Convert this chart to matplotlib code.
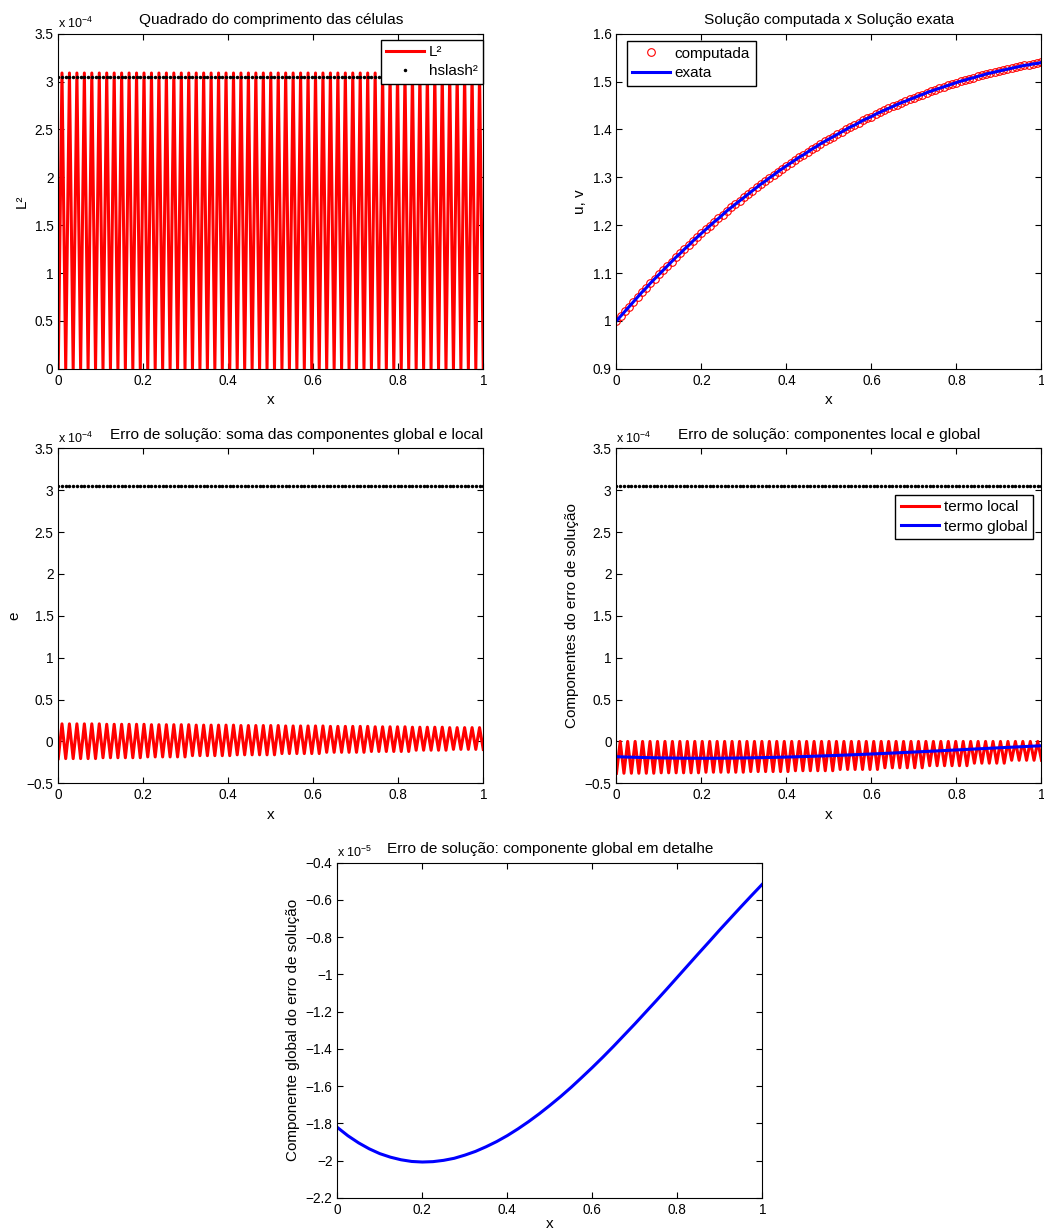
import numpy as np
import matplotlib.pyplot as plt
from matplotlib.ticker import FuncFormatter, MultipleLocator

plt.rcParams['font.family'] = ['Liberation Sans', 'DejaVu Sans']
plt.rcParams['mathtext.fontset'] = 'custom'
plt.rcParams['mathtext.rm'] = 'Liberation Sans'
plt.rcParams['axes.linewidth'] = 0.8

# malha: nós igualmente espaçados em [0, 1]
n_nos = 115
x_nos = np.linspace(0, 1, n_nos)

# quadrado do comprimento das células (x 1e-4), alterna 0 / pico
L2_nos = [0.0, 3.09] * 57 + [0.0]
hslash2 = [3.05] * n_nos

# erro de solução (x 1e-4): vales nos nós pares, picos nos ímpares
e_vales = ([-0.205] * 6 + [-0.195] * 6 + [-0.185] * 6 + [-0.17] * 6 + [-0.16] * 6
           + [-0.145] * 6 + [-0.13] * 6 + [-0.12] * 6 + [-0.105] * 5 + [-0.095] * 5)
e_picos = ([0.21] * 6 + [0.205] * 6 + [0.2] * 6 + [0.195] * 6 + [0.19] * 6
           + [0.185] * 6 + [0.18] * 6 + [0.175] * 5 + [0.17] * 5 + [0.165] * 5)

# termo local (x 1e-4)
local_vales = ([-0.38] * 6 + [-0.375] * 6 + [-0.368] * 6 + [-0.36] * 6 + [-0.35] * 6
               + [-0.335] * 6 + [-0.315] * 6 + [-0.29] * 6 + [-0.26] * 5 + [-0.225] * 5)
local_picos = [0.0] * 57

# componente global (x 1e-5)
x_global = np.linspace(0, 1, 41)
global_e5 = [-1.822, -1.867, -1.905, -1.937, -1.963, -1.982, -1.996, -2.005, -2.008,
             -2.006, -1.999, -1.988, -1.971, -1.951, -1.926, -1.898, -1.866, -1.830,
             -1.791, -1.749, -1.704, -1.657, -1.607, -1.554, -1.500, -1.444, -1.386,
             -1.326, -1.266, -1.204, -1.142, -1.079, -1.015, -0.951, -0.887, -0.824,
             -0.760, -0.698, -0.636, -0.575, -0.515]

# solução u (computada e exata)
x_u = np.linspace(0, 1, 101)
u_sol = [1.000, 1.010, 1.020, 1.030, 1.040, 1.050, 1.060, 1.069, 1.079, 1.088,
         1.097, 1.106, 1.115, 1.124, 1.133, 1.141, 1.150, 1.158, 1.167, 1.175,
         1.183, 1.191, 1.199, 1.207, 1.214, 1.222, 1.230, 1.237, 1.244, 1.251,
         1.258, 1.265, 1.272, 1.279, 1.286, 1.292, 1.299, 1.305, 1.312, 1.318,
         1.324, 1.330, 1.336, 1.342, 1.347, 1.353, 1.359, 1.364, 1.370, 1.375,
         1.380, 1.385, 1.390, 1.395, 1.400, 1.405, 1.409, 1.414, 1.419, 1.423,
         1.427, 1.432, 1.436, 1.440, 1.444, 1.448, 1.452, 1.456, 1.459, 1.463,
         1.466, 1.470, 1.473, 1.477, 1.480, 1.483, 1.486, 1.489, 1.492, 1.495,
         1.498, 1.501, 1.503, 1.506, 1.508, 1.511, 1.513, 1.516, 1.518, 1.520,
         1.522, 1.524, 1.526, 1.528, 1.530, 1.532, 1.534, 1.535, 1.537, 1.538,
         1.540]

e_nos = np.empty(n_nos)
e_nos[0::2] = e_vales
e_nos[1::2] = e_picos
local_nos = np.empty(n_nos)
local_nos[0::2] = local_vales
local_nos[1::2] = local_picos
global_e4 = [g / 10 for g in global_e5]


def fmt(v, pos):
    return ('%g' % round(v, 6)).replace('-', '\u2212')


def estilo(ax, ystep, exp=None, lpad=4):
    ax.tick_params(direction='in', top=True, right=True, length=4, labelsize=9.8)
    ax.xaxis.set_major_locator(MultipleLocator(0.2))
    ax.yaxis.set_major_locator(MultipleLocator(ystep))
    ax.xaxis.set_major_formatter(FuncFormatter(fmt))
    ax.yaxis.set_major_formatter(FuncFormatter(fmt))
    ax.set_xlabel('x', fontsize=11, labelpad=lpad)
    if exp is not None:
        ax.text(0.0, 1.008, r'x 10$^{\mathregular{%d}}$' % exp, transform=ax.transAxes,
                fontsize=9, ha='left', va='bottom')


fig = plt.figure(figsize=(10.44, 12.32), dpi=100)
wl = 0.4071
hl = 0.2719
xl, xr, xc = 0.0558, 0.5905, 0.3231
yt, ym, yb = 0.7007, 0.3642, 0.0278
leg_kw = dict(fancybox=False, edgecolor='k', framealpha=1, fontsize=11, borderaxespad=0,
              handlelength=2.5, handletextpad=0.3, borderpad=0.35, labelspacing=0.35)
tit = 11.1

# 1 - quadrado do comprimento das células
ax1 = fig.add_axes([xl, yt, wl, hl])
ax1.plot(x_nos, L2_nos, '-', color='r', lw=2.2, label='L²')
ax1.plot(x_nos, hslash2, 'k.', ms=3, label='hslash²')
ax1.set_xlim(0, 1)
ax1.set_ylim(0, 3.5)
estilo(ax1, 0.5, -4)
ax1.set_ylabel('L²', fontsize=11)
ax1.set_title('Quadrado do comprimento das células', fontsize=tit, pad=7)
ax1.legend(loc='upper right', bbox_to_anchor=(1.0, 0.982), **leg_kw)

# 2 - solução computada x exata
ax2 = fig.add_axes([xr, yt, wl, hl])
ax2.plot(x_u, u_sol, 'o', mfc='none', mec='r', ms=5.5, mew=0.8, label='computada')
ax2.plot(x_u, u_sol, '-', color='b', lw=2.2, label='exata')
ax2.set_xlim(0, 1)
ax2.set_ylim(0.9, 1.6)
estilo(ax2, 0.1)
ax2.set_ylabel('u, v', fontsize=11)
ax2.set_title('Solução computada x Solução exata', fontsize=tit, pad=7)
ax2.legend(loc='upper left', bbox_to_anchor=(0.024, 0.977), **leg_kw)

# 3 - erro de solução (soma)
ax3 = fig.add_axes([xl, ym, wl, hl])
ax3.plot(x_nos, e_nos, '-', color='r', lw=2.2)
ax3.plot(x_nos, hslash2, 'k.', ms=3)
ax3.set_xlim(0, 1)
ax3.set_ylim(-0.5, 3.5)
estilo(ax3, 0.5, -4)
ax3.set_ylabel('e', fontsize=11)
ax3.set_title('Erro de solução: soma das componentes global e local', fontsize=tit,
              pad=7, loc='right')

# 4 - componentes local e global
ax4 = fig.add_axes([xr, ym, wl, hl])
ax4.plot(x_nos, hslash2, 'k.', ms=3)
ax4.plot(x_nos, local_nos, '-', color='r', lw=2.2, label='termo local')
ax4.plot(x_global, global_e4, '-', color='b', lw=2.2, label='termo global')
ax4.set_xlim(0, 1)
ax4.set_ylim(-0.5, 3.5)
estilo(ax4, 0.5, -4)
ax4.set_ylabel('Componentes do erro de solução', fontsize=11)
ax4.set_title('Erro de solução: componentes local e global', fontsize=tit, pad=7)
h, l = ax4.get_legend_handles_labels()
ax4.legend(h, l, loc='upper right', bbox_to_anchor=(0.979, 0.861), **leg_kw)

# 5 - componente global em detalhe
ax5 = fig.add_axes([xc, yb, wl, hl])
ax5.plot(x_global, global_e5, '-', color='b', lw=2.2)
ax5.set_xlim(0, 1)
ax5.set_ylim(-2.2, -0.4)
estilo(ax5, 0.2, -5, lpad=0)
ax5.set_ylabel('Componente global do erro de solução', fontsize=11)
ax5.set_title('Erro de solução: componente global em detalhe', fontsize=tit, pad=7)

fig.savefig('out.png', dpi=100)
